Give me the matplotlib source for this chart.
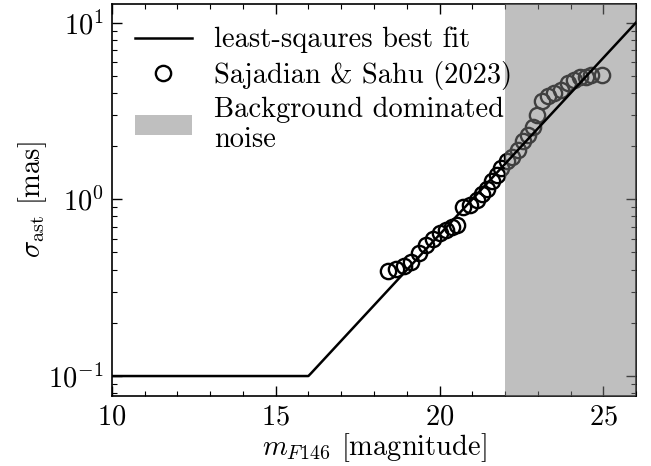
import numpy as np
import matplotlib
matplotlib.use("Agg")
import matplotlib.pyplot as plt
from matplotlib.ticker import MultipleLocator

mag = [18.43, 18.67, 18.92, 19.13, 19.37, 19.59, 19.80, 20.02, 20.20, 20.38,
       20.53, 20.72, 20.93, 21.15, 21.30, 21.45, 21.60, 21.76, 21.88, 22.06,
       22.21, 22.40, 22.55, 22.70, 22.85, 22.98, 23.13, 23.31, 23.50, 23.71,
       23.92, 24.11, 24.29, 24.47, 24.63, 24.96]
sigma = [0.392, 0.402, 0.418, 0.441, 0.495, 0.550, 0.594, 0.642, 0.668, 0.695,
         0.713, 0.901, 0.925, 0.987, 1.067, 1.139, 1.264, 1.366, 1.497, 1.64,
         1.73, 1.89, 2.13, 2.30, 2.55, 2.98, 3.58, 3.82, 3.97, 4.13,
         4.52, 4.76, 4.95, 4.95, 5.02, 5.02]

# least-squares fit: floor + log-linear rise
fit_floor = 0.1
fit_knee = 16.0
fit_slope = 0.2
bg_start = 22.0

plt.rcParams.update({
    'font.family': 'cmr10',
    'mathtext.fontset': 'cm',
    'axes.formatter.use_mathtext': True,
    'font.size': 20.5,
    'axes.unicode_minus': False,
})

fig = plt.figure(figsize=(6.51, 4.66), dpi=100)
ax = fig.add_axes([0.172, 0.150, 0.805, 0.841])

xfit = np.linspace(10, 26.5, 400)
yfit = np.maximum(fit_floor, fit_floor * 10 ** (fit_slope * (xfit - fit_knee)))

ax.plot(mag, sigma, 'o', mfc='none', mec='black', ms=11, mew=1.7,
        label='Sajadian & Sahu (2023)', zorder=2)
ax.axvspan(bg_start, 27, color='gray', alpha=0.5, lw=0,
           label='Background dominated\nnoise', zorder=3)
ax.plot(xfit, yfit, color='black', lw=1.8, label='least-sqaures best fit', zorder=4)

ax.set_yscale('log')
ax.set_xlim(10, 26)
ax.set_ylim(0.077, 12.7)
ax.xaxis.set_major_locator(MultipleLocator(5))
ax.xaxis.set_minor_locator(MultipleLocator(1))
ax.tick_params(which='both', direction='in', top=True, right=True)
ax.tick_params(which='major', length=7, width=1, pad=6)
ax.tick_params(which='minor', length=3.5, width=0.8)
for s in ax.spines.values():
    s.set_linewidth(1.2)

ax.set_xlabel(r'$m_{F146}$ [magnitude]', labelpad=0)
ax.set_ylabel(r'$\sigma_{\rm ast}$ [mas]', labelpad=-1)

h, l = ax.get_legend_handles_labels()
order = [2, 0, 1]
ax.legend([h[i] for i in order], [l[i] for i in order], loc='upper left',
          frameon=False, handlelength=2.0, handletextpad=0.8,
          borderaxespad=0.4, labelspacing=0.25)

fig.savefig('out.png', dpi=100)
